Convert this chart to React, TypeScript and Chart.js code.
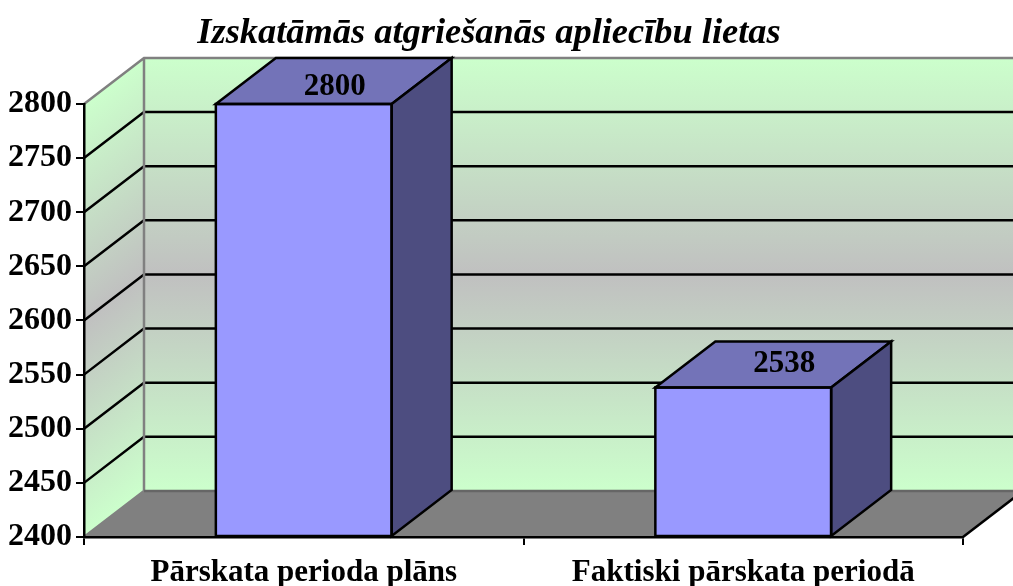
import React, { useEffect, useRef } from "react";
import { Chart, registerables } from "chart.js";

Chart.register(...registerables);

const titleText = "Izskatāmās atgriešanās apliecību lietas";
const categories = ["Pārskata perioda plāns", "Faktiski pārskata periodā"];
const values = [2800, 2538];
const labelOffsetX = [31, 41];
const labelOffsetY = [-17, -24];
const DEPTH_X = 60;
const DEPTH_Y = 46;
const FONT = "'Liberation Serif', 'Times New Roman', serif";

function wallGradient(ctx: CanvasRenderingContext2D, top: number, bottom: number) {
  const g = ctx.createLinearGradient(0, top, 0, bottom);
  g.addColorStop(0, "#CCFFCC");
  g.addColorStop(0.5, "#C0C0C0");
  g.addColorStop(1, "#CCFFCC");
  return g;
}

const scene3d = {
  id: "scene3d",
  afterLayout(chart: any) {
    // let the y tick labels use the whole left margin instead of being clipped at the padding
    chart.scales.y.left = 0;
  },
  beforeDraw(chart: any) {
    const { ctx, chartArea: a, scales } = chart;
    const y = scales.y;
    const dx = DEPTH_X;
    const dy = DEPTH_Y;
    ctx.save();
    ctx.fillStyle = wallGradient(ctx, a.top - dy, a.bottom - dy);
    ctx.fillRect(a.left + dx, a.top - dy, a.right - a.left, a.bottom - a.top);
    ctx.save();
    ctx.beginPath();
    ctx.moveTo(a.left, a.top);
    ctx.lineTo(a.left + dx, a.top - dy);
    ctx.lineTo(a.left + dx, a.bottom - dy);
    ctx.lineTo(a.left, a.bottom);
    ctx.closePath();
    ctx.clip();
    ctx.transform(1, -dy / dx, 0, 1, 0, (dy / dx) * a.left);
    ctx.fillStyle = wallGradient(ctx, a.top, a.bottom);
    ctx.fillRect(a.left, a.top, dx, a.bottom - a.top);
    ctx.restore();
    ctx.fillStyle = "#808080";
    ctx.beginPath();
    ctx.moveTo(a.left, a.bottom);
    ctx.lineTo(a.right, a.bottom);
    ctx.lineTo(a.right + dx, a.bottom - dy);
    ctx.lineTo(a.left + dx, a.bottom - dy);
    ctx.closePath();
    ctx.fill();
    ctx.lineWidth = 2.5;
    ctx.strokeStyle = "#000";
    y.ticks.forEach((t: any) => {
      if (t.value === y.min || t.value === y.max) return;
      const py = y.getPixelForValue(t.value);
      ctx.beginPath();
      ctx.moveTo(a.left, py);
      ctx.lineTo(a.left + dx, py - dy);
      ctx.lineTo(a.right + dx, py - dy);
      ctx.stroke();
    });
    ctx.strokeStyle = "#808080";
    ctx.beginPath();
    ctx.moveTo(a.left, a.top);
    ctx.lineTo(a.left + dx, a.top - dy);
    ctx.lineTo(a.right + dx, a.top - dy);
    ctx.moveTo(a.left + dx, a.top - dy);
    ctx.lineTo(a.left + dx, a.bottom - dy);
    ctx.moveTo(a.left, a.bottom);
    ctx.lineTo(a.left + dx, a.bottom - dy);
    ctx.stroke();
    ctx.strokeStyle = "#666666";
    ctx.beginPath();
    ctx.moveTo(a.left + dx, a.bottom - dy);
    ctx.lineTo(a.right + dx, a.bottom - dy);
    ctx.stroke();
    ctx.strokeStyle = "#000";
    ctx.beginPath();
    ctx.moveTo(a.right, a.bottom);
    ctx.lineTo(a.right + dx, a.bottom - dy);
    ctx.stroke();
    ctx.restore();
  },
  afterDatasetsDraw(chart: any) {
    const { ctx } = chart;
    const dx = DEPTH_X;
    const dy = DEPTH_Y;
    const meta = chart.getDatasetMeta(0);
    ctx.save();
    ctx.lineWidth = 2.5;
    ctx.strokeStyle = "#000";
    ctx.lineJoin = "miter";
    meta.data.forEach((bar: any, i: number) => {
      const half = bar.width / 2;
      const l = bar.x - half;
      const r = bar.x + half;
      const t = bar.y;
      const b = bar.base;
      ctx.fillStyle = "#7373B8";
      ctx.beginPath();
      ctx.moveTo(l, t);
      ctx.lineTo(l + dx, t - dy);
      ctx.lineTo(r + dx, t - dy);
      ctx.lineTo(r, t);
      ctx.closePath();
      ctx.fill();
      ctx.stroke();
      ctx.fillStyle = "#4D4D80";
      ctx.beginPath();
      ctx.moveTo(r, t);
      ctx.lineTo(r + dx, t - dy);
      ctx.lineTo(r + dx, b - dy);
      ctx.lineTo(r, b);
      ctx.closePath();
      ctx.fill();
      ctx.stroke();
      ctx.beginPath();
      ctx.rect(l, t, r - l, b - t);
      ctx.stroke();
      ctx.fillStyle = "#000";
      ctx.font = `bold 31px ${FONT}`;
      ctx.textAlign = "center";
      ctx.textBaseline = "middle";
      ctx.fillText(String(values[i]), bar.x + labelOffsetX[i], t + labelOffsetY[i]);
    });
    ctx.restore();
  },
};

export default function App() {
  const ref = useRef<HTMLCanvasElement>(null);
  useEffect(() => {
    const chart = new Chart(ref.current as HTMLCanvasElement, {
      type: "bar",
      data: {
        labels: categories,
        datasets: [
          {
            data: values,
            base: 2400,
            backgroundColor: "#9999FF",
            borderWidth: 0,
            barPercentage: 0.4,
            categoryPercentage: 1,
          },
        ],
      },
      options: {
        responsive: false,
        animation: false,
        layout: { padding: { left: 15, right: 50, top: 0, bottom: 0 } },
        plugins: {
          legend: { display: false },
          tooltip: { enabled: false },
          title: {
            display: true,
            text: titleText,
            color: "#000",
            font: { family: FONT, size: 36.4, weight: "bold", style: "italic", lineHeight: 1.2 },
            padding: { top: 12, bottom: 48.3 },
          },
        },
        scales: {
          x: {
            grid: { offset: true, drawOnChartArea: false, color: "#000", lineWidth: 2, tickLength: 8 },
            border: { color: "#000", width: 2.5 },
            ticks: {
              color: "#000",
              padding: 9,
              maxRotation: 0,
              font: { family: FONT, size: 31, weight: "bold" },
            },
            afterFit(s: any) {
              s.height = 49;
            },
          },
          y: {
            min: 2400,
            max: 2800,
            ticks: {
              stepSize: 50,
              color: "#000",
              padding: 4,
              callback: (v: any) => String(v),
              font: { family: FONT, size: 32, weight: "bold" },
            },
            grid: { drawOnChartArea: false, color: "#000", lineWidth: 2, tickLength: 8 },
            border: { color: "#000", width: 2.5 },
            afterFit(s: any) {
              s.width = 69;
            },
          },
        },
      },
      plugins: [scene3d],
    } as any);
    return () => chart.destroy();
  }, []);
  return (
    <canvas
      ref={ref}
      width={1013}
      height={586}
      style={{ position: "absolute", left: 0, top: 0, display: "block" }}
    />
  );
}
